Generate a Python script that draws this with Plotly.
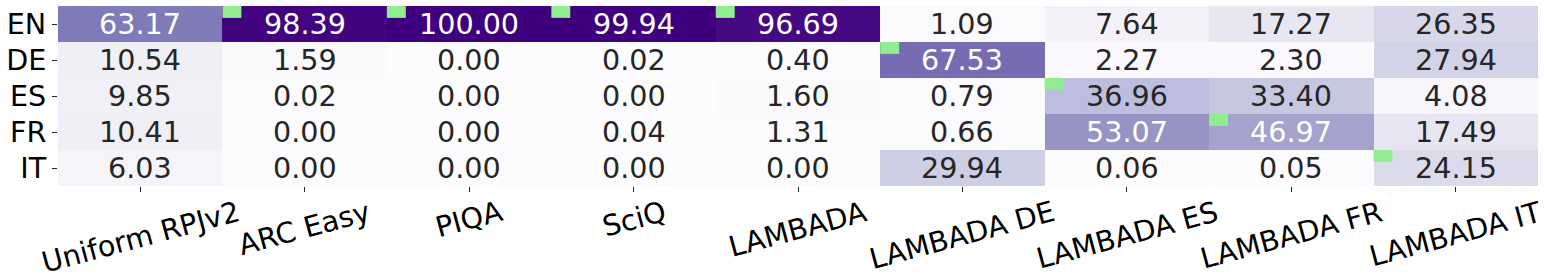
import plotly.graph_objects as go

tasks = ["Uniform RPJv2", "ARC Easy", "PIQA", "SciQ", "LAMBADA",
         "LAMBADA DE", "LAMBADA ES", "LAMBADA FR", "LAMBADA IT"]
langs = ["EN", "DE", "ES", "FR", "IT"]

row_en = [63.17, 98.39, 100.00, 99.94, 96.69, 1.09, 7.64, 17.27, 26.35]
row_de = [10.54, 1.59, 0.00, 0.02, 0.40, 67.53, 2.27, 2.30, 27.94]
row_es = [9.85, 0.02, 0.00, 0.00, 1.60, 0.79, 36.96, 33.40, 4.08]
row_fr = [10.41, 0.00, 0.00, 0.04, 1.31, 0.66, 53.07, 46.97, 17.49]
row_it = [6.03, 0.00, 0.00, 0.00, 0.00, 29.94, 0.06, 0.05, 24.15]
values = [row_en, row_de, row_es, row_fr, row_it]

# target language of each task (green marker), None for no marker
target_lang = [None, "EN", "EN", "EN", "EN", "DE", "ES", "FR", "IT"]

FONT = "DejaVu Sans"
FS = 28.6

purples = [[0.0, 'rgb(252,251,253)'], [0.125, 'rgb(239,237,245)'], [0.25, 'rgb(218,218,235)'],
           [0.375, 'rgb(188,189,220)'], [0.5, 'rgb(158,154,200)'], [0.625, 'rgb(128,125,186)'],
           [0.75, 'rgb(106,81,163)'], [0.875, 'rgb(84,39,143)'], [1.0, 'rgb(63,0,125)']]

xi = list(range(len(tasks)))
yi = list(range(len(langs)))

fig = go.Figure(go.Heatmap(
    z=values, x=xi, y=yi, colorscale=purples, zmin=0, zmax=100,
    showscale=False, hoverinfo="skip"))

annotations = []
for r, row in enumerate(values):
    for c, v in enumerate(row):
        annotations.append(dict(
            x=c, y=r, xref="x", yref="y", text=f"{v:.2f}", showarrow=False,
            font=dict(family=FONT, size=FS, color="white" if v > 42 else "#262626")))

for c, t in enumerate(tasks):
    annotations.append(dict(
        x=c, y=0, xref="x", yref="paper", text=t, showarrow=False,
        textangle=-15, xanchor="center", yanchor="top", yshift=-7, borderpad=0,
        font=dict(family=FONT, size=FS, color="black")))

shapes = []
for c, lang in enumerate(target_lang):
    if lang is None:
        continue
    r = langs.index(lang)
    shapes.append(dict(type="rect", xref="x", yref="y",
                       x0=c - 0.5, x1=c - 0.5 + 0.115, y0=r - 0.5, y1=r - 0.5 + 0.33,
                       fillcolor="#90EE90", line=dict(width=0), layer="above"))

fig.update_layout(
    width=1546, height=280,
    margin=dict(l=58, r=8, t=6, b=94),
    paper_bgcolor="white", plot_bgcolor="white",
    annotations=annotations, shapes=shapes,
    font=dict(family=FONT, size=FS, color="black"),
)
fig.update_xaxes(tickvals=xi, showticklabels=False, ticks="outside", ticklen=5,
                 tickcolor="#262626", showgrid=False, zeroline=False, showline=False,
                 range=[-0.5, len(tasks) - 0.5])
fig.update_yaxes(tickvals=yi, ticktext=langs, ticks="outside", ticklen=5,
                 tickcolor="#262626", showgrid=False, zeroline=False, showline=False,
                 range=[len(langs) - 0.5, -0.5],
                 tickfont=dict(family=FONT, size=FS, color="black"))

fig.write_html("out.html", config={"displayModeBar": False},
               post_script="document.body.style.margin='0';document.body.style.padding='0';")
